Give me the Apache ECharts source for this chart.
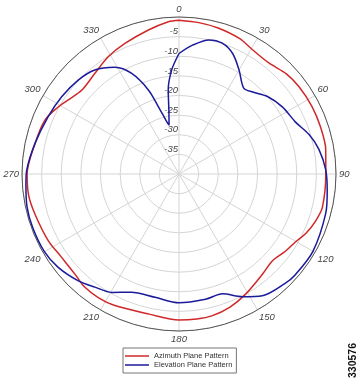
<!DOCTYPE html>
<html><head><meta charset="utf-8">
<script src="https://cdn.jsdelivr.net/npm/echarts@6/dist/echarts.min.js"></script>
<style>html,body{margin:0;padding:0;background:#fff}#c{width:360px;height:380px}</style>
</head><body><div id="c"></div>
<script>
var angleTicks = [0,30,60,90,120,150,180,210,240,270,300,330];
var radiusTicks = [-35,-30,-25,-20,-15,-10,-5];
var azAngles = [0,7.5,15,24,30.5,39,47,54,63,71.5,80.5,90,103,109,115,120,126,133,140,151,159,167,173,180,192,206,213,220,226,235,243,254.5,262,270,282,292,299,304,311,320,329,337.5,348,356,360];
var azValues = [-0.8,-1.1,-1.5,-2.2,-3.2,-3.6,-2.6,-2.2,-2.0,-2.0,-2.1,-2.6,-2.5,-3.2,-4.3,-5.6,-6.5,-7.5,-6.8,-5.0,-3.7,-2.9,-2.8,-2.8,-3.5,-2.7,-2.4,-2.5,-3.2,-3.3,-2.6,-1.9,-1.3,-1.3,-2.5,-3.2,-4.8,-6.1,-7.3,-6.6,-5.1,-4.0,-2.5,-1.1,-0.8];
var elAngles = [0,6,12.6,18.3,24,30,37,42,49,57,66,73,80,88.4,96.4,105,120,131,136,145.6,152.7,160,168,180,191,202,209.6,216.6,223.3,232.3,240,250,258,266,271.5,282,293.7,303.4,313,321,329,334.8,340,343,346.8,348.5,351,352.7,356,360];
var elValues = [-9.3,-7.0,-5.0,-4.9,-6.4,-9.4,-12.6,-11.9,-10.0,-8.6,-7.5,-5.4,-3.8,-2.6,-2.0,-1.3,-0.6,-0.8,-1.2,-2.4,-4.8,-7.5,-7.4,-7.2,-8.0,-7.5,-5.3,-4.1,-2.6,-1.1,-0.4,-0.3,-0.4,-0.9,-1.2,-2.5,-3.6,-4.2,-4.9,-5.9,-8.3,-11.7,-17.2,-22.1,-26.3,-27.3,-23.5,-18.4,-13.4,-9.3];
var seriesNames = ['Azimuth Plane Pattern','Elevation Plane Pattern'];

function pairs(a, v){ return a.map(function(x,i){ return [v[i], x]; }); }

var chart = echarts.init(document.getElementById('c'));
chart.setOption({
  animation:false,
  polar:{center:[179,174], radius:157},
  angleAxis:{
    type:'value', min:0, max:360, interval:30, startAngle:90, clockwise:true,
    axisLine:{lineStyle:{color:'#555', width:1}},
    axisTick:{show:false},
    axisLabel:{margin:3, color:'#444', fontStyle:'italic', fontSize:9.5, fontFamily:'Liberation Sans',
      formatter:function(v){ return angleTicks.indexOf(v) >= 0 ? String(v) : ''; }},
    splitLine:{show:true, lineStyle:{color:'#d4d4d4', width:1}}
  },
  radiusAxis:{
    type:'value', min:-40, max:0, interval:5,
    axisLine:{show:false}, axisTick:{show:false},
    axisLabel:{color:'#444', fontStyle:'italic', fontSize:9.5, fontFamily:'Liberation Sans', margin:1, align:'right', verticalAlign:'bottom', rotate:0,
      formatter:function(v){ return radiusTicks.indexOf(v) >= 0 ? String(v) : ''; }},
    splitLine:{show:true, lineStyle:{color:'#d4d4d4', width:1}}
  },
  legend:{
    orient:'vertical', left:123, top:348, data:seriesNames,
    borderColor:'#777', borderWidth:1, borderRadius:0, padding:[4,4,4,2], itemGap:1,
    icon:'rect', itemWidth:24, itemHeight:1.5,
    textStyle:{fontSize:7.5, lineHeight:8, color:'#333', fontFamily:'Liberation Sans'}
  },
  graphic:[{type:'text', left:348, top:343, rotation:Math.PI/2,
    style:{text:'330576', fill:'#111', font:'bold 10.5px Liberation Sans'}}],
  series:[
    {name:seriesNames[0], type:'line', coordinateSystem:'polar', data:pairs(azAngles, azValues), smooth:0.3, showSymbol:false, lineStyle:{color:'#d02828', width:1.5}, itemStyle:{color:'#d02828'}},
    {name:seriesNames[1], type:'line', coordinateSystem:'polar', data:pairs(elAngles, elValues), smooth:0.3, showSymbol:false, lineStyle:{color:'#1a1a9a', width:1.5}, itemStyle:{color:'#1a1a9a'}}
  ]
});
</script></body></html>
